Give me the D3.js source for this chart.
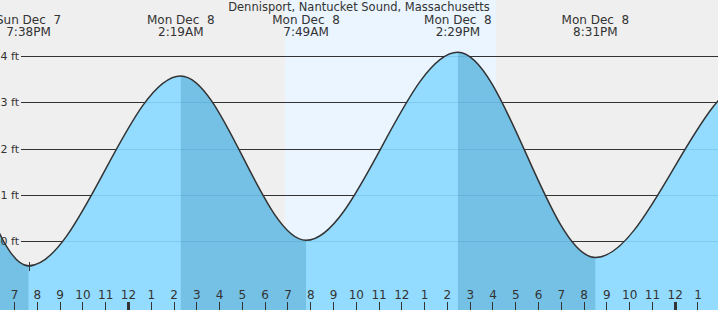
<!DOCTYPE html>
<html>
<head>
<meta charset="utf-8">
<script src="https://cdn.jsdelivr.net/npm/d3@7"></script>
<style>
body { margin: 0; background: #efefef; overflow: hidden; }
svg { display: block; font-family: "DejaVu Sans", sans-serif; }
</style>
</head>
<body>
<div id="chart"></div>
<script>
// tide extremes in feet ; first two and last two sit outside the window
var tide_times = ["2025-12-07 07:25", "2025-12-07 13:50", "2025-12-07 19:38", "2025-12-08 02:19", "2025-12-08 07:49", "2025-12-08 14:29", "2025-12-08 20:31", "2025-12-09 03:24", "2025-12-09 09:30"] ;
var tide_heights = [-0.4, 5.15, -0.53, 3.57, 0.02, 4.08, -0.35, 3.5, -0.3] ;
var tide_shown = [false, false, true, true, true, true, true, false, false] ;

var sun_times = ["2025-12-08 06:53", "2025-12-08 16:09"] ;//daylight band
var height_ticks = [0, 1, 2, 3, 4] ;
var window_times = ["2025-12-07 18:22:53", "2025-12-09 01:54:00"] ;
var station_name = "Dennisport, Nantucket Sound, Massachusetts" ;

var width = 718, height = 310 ;

var parse = d3.timeParse("%Y-%m-%d %H:%M") ;
var parse_s = d3.timeParse("%Y-%m-%d %H:%M:%S") ;
var fmt_day = d3.timeFormat("%a %b %e") ;
var fmt_time = d3.timeFormat("%-I:%M%p") ;
var fmt_hour = d3.timeFormat("%-I") ;

function draw_chart()
{
    var tides = tide_times.map(function(t, i) {
	return { date: parse(t), ft: tide_heights[i], shown: tide_shown[i] } ;
    }) ;

    var x = d3.scaleTime()
	.domain([parse_s(window_times[0]), parse_s(window_times[1])])
	.range([0, width]) ;

    var y = d3.scaleLinear()
	.domain([0, 4])
	.range([241.3, 56]) ;

    var svg = d3.select("#chart").append("svg")
	.attr("width", width)
	.attr("height", height) ;

    svg.append("rect")
	.attr("width", width)
	.attr("height", height)
	.attr("fill", "#efefef") ;

    //daylight
    svg.append("rect")
	.attr("x", x(parse(sun_times[0])))
	.attr("y", 0)
	.attr("width", x(parse(sun_times[1])) - x(parse(sun_times[0])))
	.attr("height", height)
	.attr("fill", "#eaf5ff") ;

    //grid above the water
    svg.append("g").selectAll("line")
	.data(height_ticks)
	.join("line")
	.attr("x1", 21)
	.attr("x2", width)
	.attr("y1", function(d) { return Math.round(y(d)) + 0.5 ; })
	.attr("y2", function(d) { return Math.round(y(d)) + 0.5 ; })
	.attr("stroke", "#333")
	.attr("stroke-width", 1) ;

    var area = d3.area()
	.x(function(d) { return x(d.date) ; })
	.y0(height)
	.y1(function(d) { return y(d.ft) ; })
	.curve(d3.curveMonotoneX) ;

    var line = d3.line()
	.x(function(d) { return x(d.date) ; })
	.y(function(d) { return y(d.ft) ; })
	.curve(d3.curveMonotoneX) ;

    svg.append("clipPath")
	.attr("id", "waterClip")
	.append("path")
	.attr("d", area(tides)) ;

    svg.append("path")
	.attr("d", area(tides))
	.attr("fill", "#94dcff") ;

    //falling tide is shaded darker
    var water = svg.append("g").attr("clip-path", "url(#waterClip)") ;

    for(var i = 0 ; i < tides.length - 1 ; i++)
    {
	if(tides[i].ft > tides[i+1].ft)
	{
	    water.append("rect")
		.attr("x", x(tides[i].date))
		.attr("y", 0)
		.attr("width", x(tides[i+1].date) - x(tides[i].date))
		.attr("height", height)
		.attr("fill", "#74c1e5") ;
	}
    }

    water.selectAll("line")
	.data(height_ticks)
	.join("line")
	.attr("x1", 0)
	.attr("x2", width)
	.attr("y1", function(d) { return Math.round(y(d)) + 0.5 ; })
	.attr("y2", function(d) { return Math.round(y(d)) + 0.5 ; })
	.attr("stroke", "rgba(40,120,170,0.18)")
	.attr("stroke-width", 1) ;

    svg.append("path")
	.attr("d", line(tides))
	.attr("fill", "none")
	.attr("stroke", "#333")
	.attr("stroke-width", 1.5) ;

    //marker on the first low
    var shown = tides.filter(function(d) { return d.shown ; }) ;
    var mx = Math.round(x(shown[0].date)) + 0.5, my = Math.round(y(shown[0].ft)) ;
    svg.append("path")
	.attr("d", "M" + mx + "," + (my - 4) + "V" + (my + 5) + "M" + (mx - 3) + "," + my + "H" + (mx + 3))
	.attr("stroke", "#333")
	.attr("fill", "none") ;

    //height labels
    svg.append("g").selectAll("text")
	.data(height_ticks)
	.join("text")
	.attr("x", 19)
	.attr("y", function(d) { return y(d) + 4 ; })
	.attr("text-anchor", "end")
	.attr("font-size", "11px")
	.attr("fill", "#333")
	.text(function(d) { return d + " ft" ; }) ;

    //hour ticks
    var hours = x.ticks(d3.timeHour.every(1)) ;
    var ax = svg.append("g") ;

    ax.selectAll("line")
	.data(hours)
	.join("line")
	.attr("x1", function(d) { return Math.round(x(d)) + 0.5 ; })
	.attr("x2", function(d) { return Math.round(x(d)) + 0.5 ; })
	.attr("y1", 302)
	.attr("y2", height)
	.attr("stroke", "#333")
	.attr("stroke-width", function(d) { return d.getHours() == 0 ? 3 : 1 ; }) ;

    ax.selectAll("text")
	.data(hours)
	.join("text")
	.attr("x", function(d) { return x(d) + 0.5 ; })
	.attr("y", 299)
	.attr("text-anchor", "middle")
	.attr("font-size", "12px")
	.attr("fill", "#333")
	.text(function(d) { return fmt_hour(d) ; }) ;

    //extreme labels
    var labels = svg.append("g")
	.attr("text-anchor", "middle")
	.attr("font-size", "12px")
	.attr("fill", "#333") ;

    labels.selectAll("text.day")
	.data(shown)
	.join("text")
	.attr("class", "day")
	.attr("xml:space", "preserve")
	.attr("x", function(d) { return x(d.date) ; })
	.attr("y", 24)
	.text(function(d) { return fmt_day(d.date) ; }) ;

    labels.selectAll("text.time")
	.data(shown)
	.join("text")
	.attr("class", "time")
	.attr("x", function(d) { return x(d.date) ; })
	.attr("y", 36)
	.text(function(d) { return fmt_time(d.date) ; }) ;

    svg.append("text")
	.attr("x", width/2)
	.attr("y", 11)
	.attr("text-anchor", "middle")
	.attr("font-size", "11.5px")
	.attr("fill", "#333")
	.text(station_name) ;
}

draw_chart() ;
</script>
</body>
</html>
